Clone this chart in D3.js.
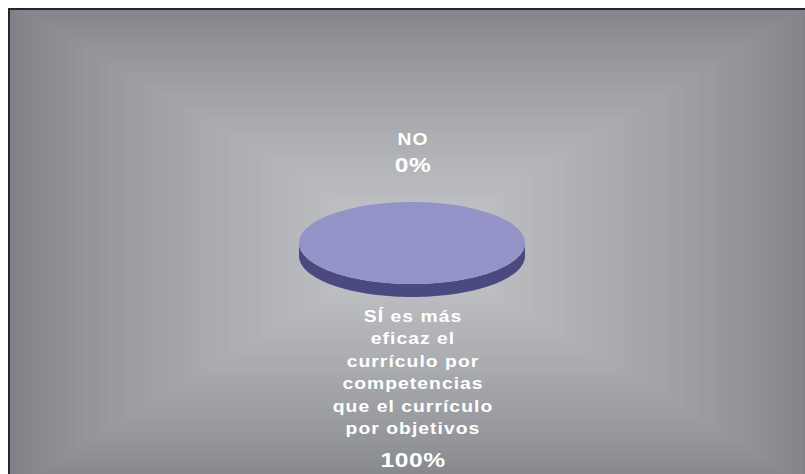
<!DOCTYPE html>
<html>
<head>
<meta charset="utf-8">
<script src="https://cdn.jsdelivr.net/npm/d3@7"></script>
<style>
  html, body { margin: 0; padding: 0; background: #ffffff; }
  svg { display: block; }
  text { font-family: "Liberation Sans", Arial, sans-serif; font-weight: bold; fill: #ffffff; }
</style>
</head>
<body>
<svg id="chart" width="805" height="474"></svg>
<script>
// Survey answers and their shares
const categories = ["SÍ es más eficaz el currículo por competencias que el currículo por objetivos", "NO"];
const values = [100, 0];
const labelLines = [
  ["SÍ es más", "eficaz el", "currículo por", "competencias", "que el currículo", "por objetivos"],
  ["NO"]
];

const W = 805, H = 474;
const svg = d3.select("#chart");

// ---- background: rectangular gradient, light in the middle, darker toward the frame
const frame = { x: 9, y: 9 };
svg.append("clipPath").attr("id", "plotClip")
  .append("rect")
  .attr("x", frame.x).attr("y", frame.y)
  .attr("width", W - frame.x + 20).attr("height", H - frame.y + 20);

const area = { w: 812, h: 490 };
const gcx = 413, gcy = 246;
const steps = d3.range(48);
const edgeCol = "#7f8085", midCol = "#c6c7cb";
const colAt = d3.interpolateRgb(edgeCol, midCol);
const bg = svg.append("g").attr("clip-path", "url(#plotClip)");
bg.selectAll("rect")
  .data(steps)
  .join("rect")
  .attr("x", i => gcx - (area.w / 2) * (1 - i / steps.length))
  .attr("y", i => gcy - (area.h / 2) * (1 - i / steps.length))
  .attr("width", i => area.w * (1 - i / steps.length))
  .attr("height", i => area.h * (1 - i / steps.length))
  .attr("fill", i => colAt(Math.pow(i / (steps.length - 1), 0.75)));

// frame on the left and top
svg.append("rect")
  .attr("x", frame.x).attr("y", frame.y)
  .attr("width", W + 20).attr("height", H + 20)
  .attr("fill", "none")
  .attr("stroke", "#262626")
  .attr("stroke-width", 2);

// ---- 3D pie
const cx = 412, cy = 243, rx = 113, ry = 41, depth = 13;
const topColors = ["#9393c7", "#9393c7"];
const sideColors = ["#4a4a80", "#4a4a80"];

const pie = d3.pie().sort(null).startAngle(Math.PI).endAngle(3 * Math.PI);
const arcs = pie(values);

// d3.arc angles: 0 at 12 o'clock, clockwise
const px = a => cx + rx * Math.sin(a);
const py = a => cy - ry * Math.cos(a);

function wallPath(a0, a1) {
  // only the front half (angles between PI/2 and 3PI/2, modulo a turn) is visible
  const parts = [];
  for (let k = -1; k <= 2; k++) {
    const vs = Math.PI / 2 + k * 2 * Math.PI, ve = 3 * Math.PI / 2 + k * 2 * Math.PI;
    const lo = Math.max(a0, vs), hi = Math.min(a1, ve);
    if (hi <= lo) continue;
    const n = 60;
    const pts = d3.range(n + 1).map(i => lo + (hi - lo) * i / n);
    const top = pts.map(a => [px(a), py(a)]);
    const bot = pts.slice().reverse().map(a => [px(a), py(a) + depth]);
    parts.push(d3.line()(top.concat(bot)) + "Z");
  }
  return parts.join("");
}

const pieG = svg.append("g");
pieG.selectAll("path.side")
  .data(arcs)
  .join("path")
  .attr("class", "side")
  .attr("d", d => wallPath(d.startAngle, d.endAngle))
  .attr("fill", (d, i) => sideColors[i]);

const arcGen = d3.arc().innerRadius(0).outerRadius(rx);
pieG.append("g")
  .attr("transform", `translate(${cx},${cy}) scale(1,${ry / rx})`)
  .selectAll("path.top")
  .data(arcs.filter(d => d.endAngle - d.startAngle > 0))
  .join("path")
  .attr("class", "top")
  .attr("d", arcGen)
  .attr("fill", d => topColors[d.index]);

// ---- labels
const total = d3.sum(values);
const pct = v => d3.format(".0%")(v / total);
const stretch = 1.17;
const labelX = 413;

function drawLabel(lines, percent, firstBaseline, lineGap, pctBaseline) {
  const g = svg.append("g")
    .attr("transform", `translate(${labelX},0) scale(${stretch},1)`);
  g.selectAll("text.line")
    .data(lines)
    .join("text")
    .attr("class", "line")
    .attr("x", 0)
    .attr("y", (d, i) => firstBaseline + i * lineGap)
    .attr("text-anchor", "middle")
    .attr("font-size", 16.5)
    .attr("letter-spacing", 0.9)
    .text(d => d);
  g.append("text")
    .attr("x", 0)
    .attr("y", pctBaseline)
    .attr("text-anchor", "middle")
    .attr("font-size", 21)
    .attr("letter-spacing", 0.5)
    .text(percent);
}

drawLabel(labelLines[1], pct(values[1]), 145, 22.5, 172);
drawLabel(labelLines[0], pct(values[0]), 322, 22.5, 467);
</script>
</body>
</html>
